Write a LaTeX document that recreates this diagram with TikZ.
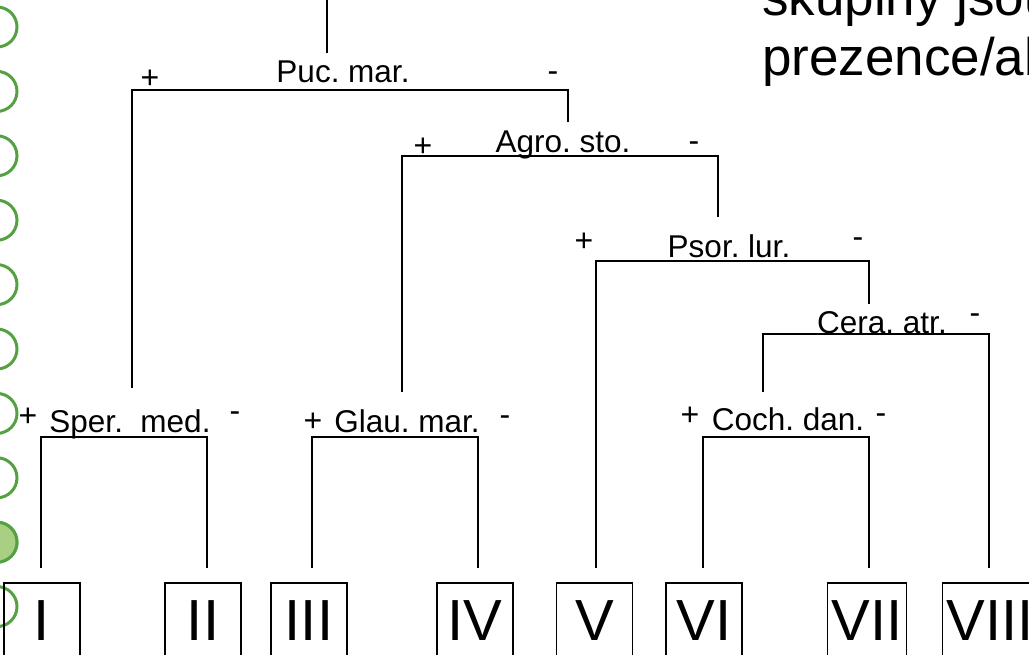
\documentclass[tikz,border=0pt]{standalone}
\usepackage{fontspec}
\setmainfont{Liberation Sans}
\usepackage{xcolor}
\definecolor{ringgreen}{HTML}{54A043}
\definecolor{ringfill}{HTML}{A9CF82}
\tikzset{
  branch/.style={line width=2.2pt, draw=black},
  taxbox/.style={draw=black, line width=1.6pt, minimum width=76pt, minimum height=76pt, inner xsep=4pt, inner ysep=0pt, font=\fontsize{58}{58}\selectfont},
  splitlab/.style={anchor=base, inner sep=0pt, font=\fontsize{31.5}{31.5}\selectfont},
  sign/.style={anchor=base, inner sep=0pt, font=\fontsize{32}{32}\selectfont},
  titletext/.style={anchor=base west, inner sep=0pt, font=\fontsize{53}{60}\selectfont},
  ring/.style={draw=ringgreen, line width=3pt}
}
\frenchspacing

\begin{document}
\begin{tikzpicture}[x=1pt, y=-1pt]
  \useasboundingbox (0,0) rectangle (1029,654);
  \clip (0,0) rectangle (1029,654);
  \foreach \k in {0,...,9} {
    \draw[ring] (-3,{27+64.4*\k}) circle [radius=20];
  }
  \draw[ring, fill=ringfill] (-3,{27+64.4*8}) circle [radius=20];

  \node[titletext] (title-a) at (762,15) {skupiny jsou};
  \node[titletext] (title-b) at (762,75) {prezence/ab};

  \foreach \n/\x/\t in {1/42/I,2/203/II,3/309/III,4/475/IV,5/594.5/V,6/704/VI,7/867/VII,8/990/VIII} {
    \node[taxbox] (grp\n) at (\x,621) {\t};
  }
  \foreach \n/\x in {1/41,2/207,3/312,4/478,5/596,6/703,7/869,8/989} {
    \coordinate (t\n) at (\x,568);
  }

  \node[splitlab] (puc) at (343,82) {Puc. mar.};
  \node[splitlab] (agro) at (563,152) {Agro. sto.};
  \node[splitlab] (psor) at (729,257) {Psor. lur.};
  \node[splitlab] (cera) at (882,333) {Cera. atr.};
  \node[splitlab] (coch) at (788,430) {Coch. dan.};
  \node[splitlab] (sper) at (130,432) {Sper.\ \ med.};
  \node[splitlab] (glau) at (407,432) {Glau. mar.};

  \node[sign] (puc-plus) at (150,88) {+};
  \node[sign] (puc-minus) at (553,81) {-};
  \node[sign] (agro-plus) at (423,156) {+};
  \node[sign] (agro-minus) at (694,151) {-};
  \node[sign] (psor-plus) at (584,251) {+};
  \node[sign] (psor-minus) at (858,247) {-};
  \node[sign] (cera-minus) at (975,323) {-};
  \node[sign] (coch-plus) at (690,425) {+};
  \node[sign] (coch-minus) at (881,423) {-};
  \node[sign] (sper-plus) at (28,426) {+};
  \node[sign] (sper-minus) at (235,421) {-};
  \node[sign] (glau-plus) at (313,431) {+};
  \node[sign] (glau-minus) at (505,425) {-};

  \coordinate (root) at (327,0);
  \coordinate (puc-in) at (327,53);
  \coordinate (puc-bar) at (343,90);
  \coordinate (agro-in) at (568,122);
  \coordinate (agro-bar) at (563,156);
  \coordinate (psor-in) at (718,217);
  \coordinate (psor-bar) at (729,261);
  \coordinate (cera-in) at (869,304);
  \coordinate (cera-bar) at (882,334);
  \coordinate (coch-in) at (763,392);
  \coordinate (coch-bar) at (788,437);
  \coordinate (sper-in) at (132,388);
  \coordinate (sper-bar) at (130,437);
  \coordinate (glau-in) at (402,392);
  \coordinate (glau-bar) at (407,437);

  \draw[branch] (root) -- (puc-in);
  \draw[branch] (sper-in) |- (puc-bar) -| (agro-in);
  \draw[branch] (glau-in) |- (agro-bar) -| (psor-in);
  \draw[branch] (t5) |- (psor-bar) -| (cera-in);
  \draw[branch] (coch-in) |- (cera-bar) -| (t8);
  \draw[branch] (t6) |- (coch-bar) -| (t7);
  \draw[branch] (t1) |- (sper-bar) -| (t2);
  \draw[branch] (t3) |- (glau-bar) -| (t4);
\end{tikzpicture}
\end{document}
